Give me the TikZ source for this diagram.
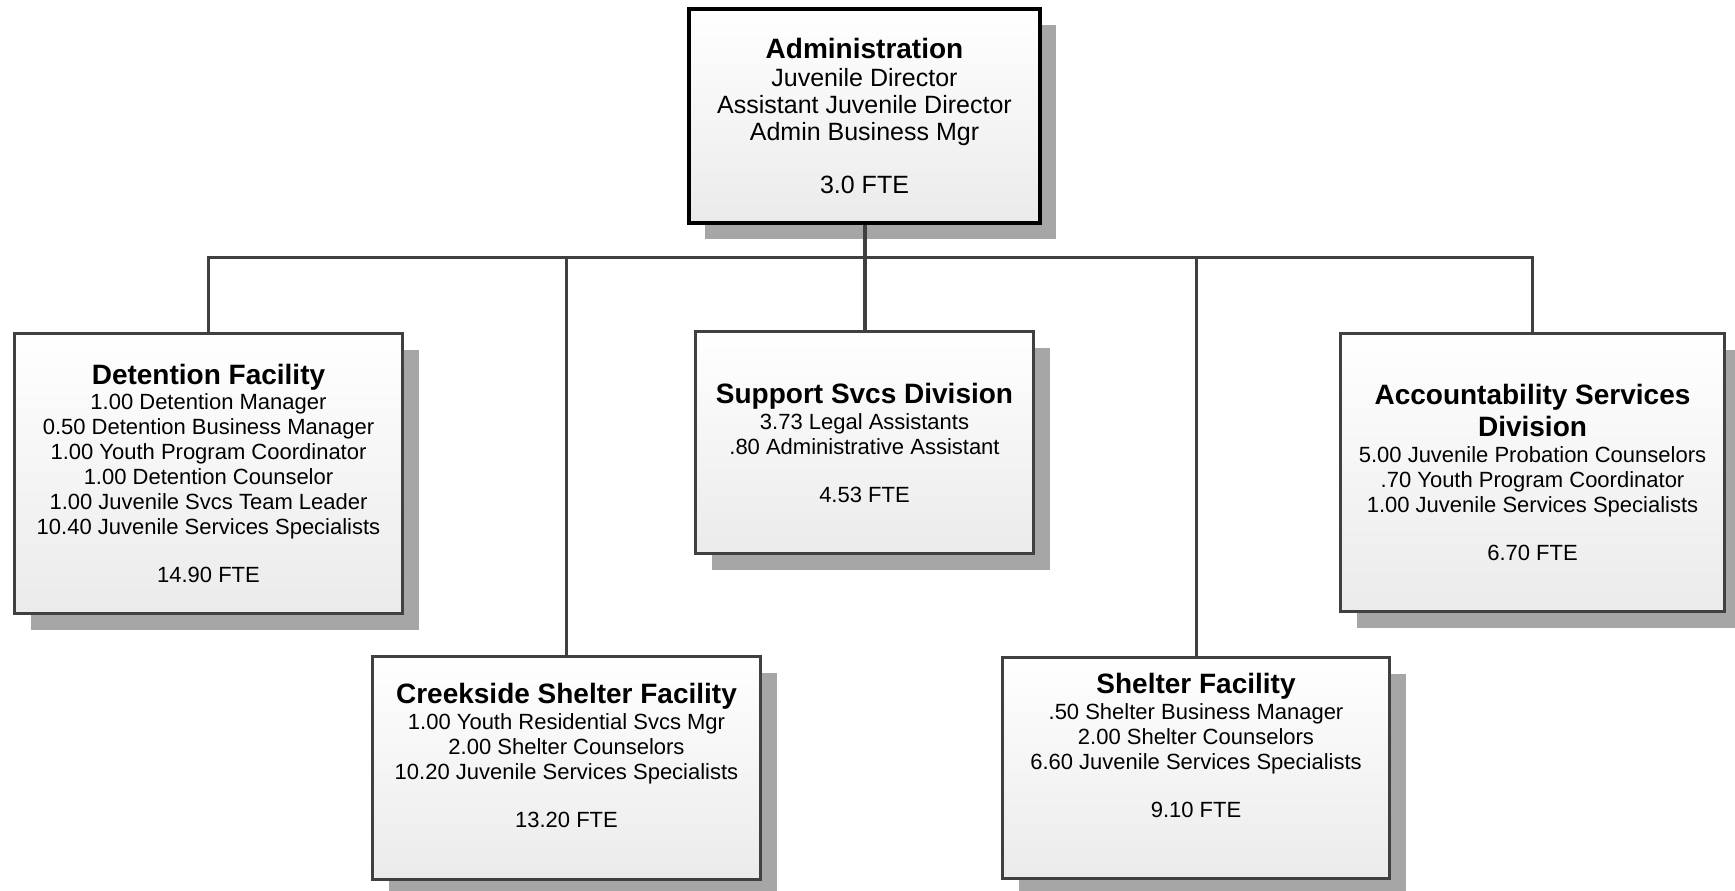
\documentclass[tikz,border=0pt]{standalone}
\usepackage{fontspec}
\setmainfont{Liberation Sans}
\usetikzlibrary{shadows}
\definecolor{boxline}{HTML}{404040}
\definecolor{shadowgray}{HTML}{A6A6A6}
\newcommand\titlefont{\fontsize{28}{30}\selectfont\bfseries}
\newcommand\bodyfont{\fontsize{22}{25}\selectfont}
\begin{document}
\begin{tikzpicture}[
        x=1pt, y=-1pt,
        box/.style={draw=boxline, line width=3pt, top color=white, bottom color=black!8,
          drop shadow={shadow xshift=16pt, shadow yshift=-16pt, fill=shadowgray, opacity=1},
          align=center, font=\bodyfont, inner sep=0pt},
        conn/.style={draw=boxline, line width=3pt}
    ]
      \useasboundingbox (0,0) rectangle (1735,891);
      % Top of the chart
      \node[box, draw=black, line width=4pt, minimum width=351pt, minimum height=214pt,
            font=\fontsize{25}{26.7}\selectfont] (admin) at (864.5,116)
        {{\titlefont Administration}\\[2pt]
         Juvenile Director\\
         Assistant Juvenile Director\\
         Admin Business Mgr\\[26.7pt]
         3.0 FTE};

      % Second row
      \node[box, minimum width=388pt, minimum height=280pt] (det) at (208.5,473.5)
        {{\titlefont Detention Facility}\\[0pt]
         1.00 Detention Manager\\
         0.50 Detention Business Manager\\
         1.00 Youth Program Coordinator\\
         1.00 Detention Counselor\\
         1.00 Juvenile Svcs Team Leader\\
         10.40 Juvenile Services Specialists\\[23pt]
         14.90 FTE};
      \node[box, minimum width=338pt, minimum height=222pt] (sup) at (864.5,442.5)
        {{\titlefont Support Svcs Division}\\[1pt]
         3.73 Legal Assistants\\
         .80 Administrative Assistant\\[23pt]
         4.53 FTE};
      \node[box, minimum width=384pt, minimum height=278pt] (acc) at (1532.5,472.5)
        {{\titlefont Accountability Services}\\[4pt]
         {\titlefont Division}\\[1pt]
         5.00 Juvenile Probation Counselors\\
         .70 Youth Program Coordinator\\
         1.00 Juvenile Services Specialists\\[23pt]
         6.70 FTE};

      % Bottom row
      \node[box, minimum width=388pt, minimum height=223pt] (creek) at (566.5,768)
        {{\titlefont Creekside Shelter Facility}\\[1pt]
         1.00 Youth Residential Svcs Mgr\\
         2.00 Shelter Counselors\\
         10.20 Juvenile Services Specialists\\[23pt]
         13.20 FTE\\[0pt]~};
      \node[box, minimum width=387pt, minimum height=221pt] (shel) at (1196,768)
        {{\titlefont Shelter Facility}\\[1pt]
         .50 Shelter Business Manager\\
         2.00 Shelter Counselors\\
         6.60 Juvenile Services Specialists\\[23pt]
         9.10 FTE\\[20pt]~};

      % Connectors
      \coordinate (bus) at (0,257);
      \draw[conn] (det.north) |- (bus -| acc.north) -- (acc.north);
      \draw[conn] (creek.north) -- (creek.north |- bus);
      \draw[conn] (shel.north) -- (shel.north |- bus);
      \draw[conn, line width=4pt] (admin.south) -- (sup.north);
    \end{tikzpicture}
\end{document}
